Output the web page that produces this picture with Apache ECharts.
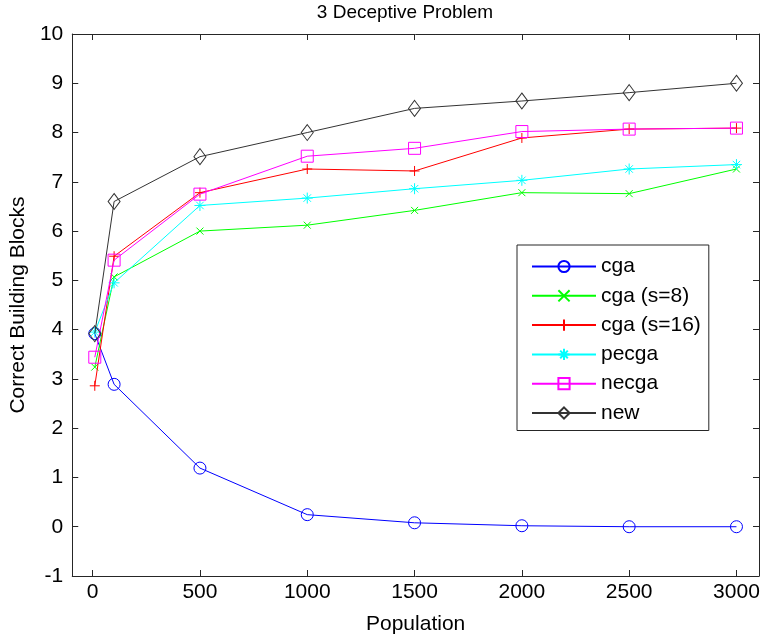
<!DOCTYPE html>
<html>
<head>
<meta charset="utf-8">
<script src="https://cdn.jsdelivr.net/npm/echarts@6/dist/echarts.min.js"></script>
<style>html,body{margin:0;padding:0;background:#fff}#c{width:763px;height:640px}</style>
</head>
<body>
<div id="c"></div>
<script>
const population = [10, 100, 500, 1000, 1500, 2000, 2500, 3000];
const xTicks = [0, 500, 1000, 1500, 2000, 2500, 3000];
const seriesNames = ['cga', 'cga (s=8)', 'cga (s=16)', 'pecga', 'necga', 'new'];
const cga    = [3.92, 2.89, 1.19, 0.245, 0.08, 0.02, 0.0, 0.0];
const cgaS8  = [3.24, 5.07, 6.00, 6.12, 6.42, 6.78, 6.76, 7.26];
const cgaS16 = [2.86, 5.49, 6.78, 7.26, 7.22, 7.89, 8.07, 8.09];
const pecga  = [3.95, 4.95, 6.52, 6.67, 6.86, 7.03, 7.26, 7.35];
const necga  = [3.44, 5.41, 6.75, 7.52, 7.68, 8.02, 8.07, 8.09];
const newAlg = [3.92, 6.60, 7.51, 8.00, 8.49, 8.64, 8.81, 9.00];

const FONT = "'Liberation Sans', Arial, sans-serif";
const FS = 21;
const AX = '#262626';

const styles = [
  {color: '#0000ff', symbol: 'circle', size: 12},
  {color: '#00ff00', symbol: 'path://M0,0 L10,10 M10,0 L0,10', size: 7},
  {color: '#ff0000', symbol: 'path://M5,0 L5,10 M0,5 L10,5', size: 10},
  {color: '#00ffff', symbol: 'path://M5,0 L5,10 M0,5 L10,5 M1.6,1.6 L8.4,8.4 M8.4,1.6 L1.6,8.4', size: 11},
  {color: '#ff00ff', symbol: 'rect', size: 12},
  {color: '#333333', symbol: 'diamond', size: [12, 16]}
];
const values = [cga, cgaS8, cgaS16, pecga, necga, newAlg];

const series = values.map((v, i) => ({
  name: seriesNames[i],
  type: 'line',
  data: population.map((p, j) => [p, v[j]]),
  symbol: styles[i].symbol,
  symbolSize: styles[i].size,
  showAllSymbol: true,
  lineStyle: {color: styles[i].color, width: 1},
  itemStyle: {color: 'rgba(0,0,0,0)', borderColor: styles[i].color, borderWidth: 1},
  emphasis: {disabled: true},
  animation: false,
  z: 2 + i
}));

const plain = v => String(v);

const chart = echarts.init(document.getElementById('c'), null, {renderer: 'canvas'});
chart.setOption({
  backgroundColor: '#ffffff',
  animation: false,
  textStyle: {fontFamily: FONT},
  grid: {left: 71, right: 4, top: 34, bottom: 63, containLabel: false},
  graphic: [{
    type: 'text', x: 405, y: 13,
    style: {text: '3 Deceptive Problem', textAlign: 'center', textVerticalAlign: 'middle',
            font: "19px " + FONT, fill: '#000'}
  }],
  legend: {
    orient: 'vertical', left: 517, top: 245,
    data: seriesNames,
    itemWidth: 64, itemHeight: 14, itemGap: 8.3,
    padding: [11, 8, 7, 14],
    backgroundColor: '#fff', borderColor: AX, borderWidth: 1, borderRadius: 0,
    textStyle: {fontSize: FS, color: '#000', fontFamily: FONT},
    selectedMode: false
  },
  xAxis: [{
    type: 'value', min: -95, max: 3105,
    name: 'Population', nameLocation: 'middle', nameGap: 38,
    nameTextStyle: {fontSize: FS, color: '#000'},
    axisLine: {show: true, onZero: false, lineStyle: {color: AX, width: 1}},
    axisTick: {show: true, inside: true, length: 6, customValues: xTicks, lineStyle: {color: AX}},
    axisLabel: {show: true, customValues: xTicks, formatter: plain, fontSize: FS, color: '#000', margin: 6},
    splitLine: {show: false}
  }, {
    type: 'value', min: -95, max: 3105, position: 'top',
    axisLine: {show: true, onZero: false, lineStyle: {color: AX, width: 1}},
    axisTick: {show: true, inside: true, length: 6, customValues: xTicks, lineStyle: {color: AX}},
    axisLabel: {show: false},
    splitLine: {show: false}
  }],
  yAxis: [{
    type: 'value', min: -1, max: 10, interval: 1,
    name: 'Correct Building Blocks', nameLocation: 'middle', nameGap: 40, nameRotate: 90,
    nameTextStyle: {fontSize: FS, color: '#000'},
    axisLine: {show: true, onZero: false, lineStyle: {color: AX, width: 1}},
    axisTick: {show: true, inside: true, length: 6, lineStyle: {color: AX}},
    axisLabel: {show: true, formatter: plain, fontSize: FS, color: '#000', margin: 9},
    splitLine: {show: false}
  }, {
    type: 'value', min: -1, max: 10, interval: 1, position: 'right',
    axisLine: {show: true, onZero: false, lineStyle: {color: AX, width: 1}},
    axisTick: {show: true, inside: true, length: 6, lineStyle: {color: AX}},
    axisLabel: {show: false},
    splitLine: {show: false}
  }],
  series: series
});
</script>
</body>
</html>
